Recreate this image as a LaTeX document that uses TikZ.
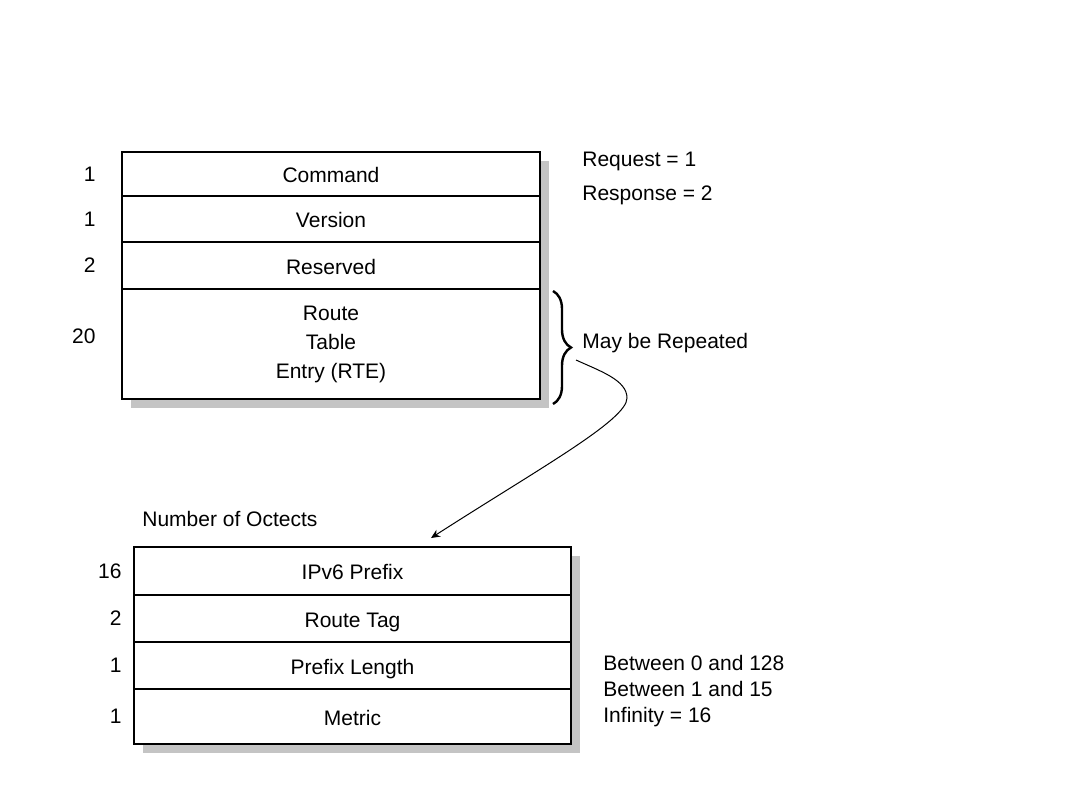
\documentclass[tikz,border=0pt]{standalone}
\usepackage{fontspec}
\setmainfont{Liberation Sans}
\usepackage{tikz}
\usetikzlibrary{arrows.meta,positioning,decorations.pathreplacing}
\definecolor{shadowgray}{HTML}{C4C4C4}
\pgfdeclarelayer{back}
\pgfsetlayers{back,main}
\tikzset{
    field/.style={rectangle, draw=black, line width=1pt, fill=white,
        inner sep=0pt, outer sep=0pt, align=center,
        font=\fontsize{10.5}{14.5}\selectfont},
    oneline/.style={text height=9.2pt, text depth=0.6pt},
    topfield/.style={field, minimum width=209pt},
    lowfield/.style={field, minimum width=218.5pt},
    octet/.style={inner sep=0pt, font=\fontsize{10.5}{12}\selectfont},
    note/.style={inner sep=0pt, align=left, font=\fontsize{10.5}{13}\selectfont},
    link/.style={-{Stealth[length=4.5pt,width=4pt]}, line width=0.5pt},
    repbrace/.style={decorate, decoration={brace, amplitude=9pt}, line width=1.2pt}
}

\begin{document}
\begin{tikzpicture}[x=0.5pt,y=-0.5pt]
        \useasboundingbox (0,0) rectangle (1080,810);
        % RIPng message
        \node[topfield, oneline, minimum height=22pt, anchor=north west] (cmd) at (122,152) {Command};
        \node[topfield, oneline, minimum height=23pt, below=0pt of cmd] (ver) {Version};
        \node[topfield, oneline, minimum height=23.5pt, below=0pt of ver] (res) {Reserved};
        \node[topfield, minimum height=55pt, below=0pt of res] (rte) {Route\\Table\\Entry (RTE)};
        \node[octet, left=13pt of cmd] (ncmd) {1};
        \node[octet, left=13pt of ver] (nver) {1};
        \node[octet, left=13pt of res] (nres) {2};
        \node[octet, left=13pt of rte, yshift=4pt] (nrte) {20};
        \node[note, right=21pt of cmd, yshift=-2pt, font=\fontsize{10.5}{17}\selectfont] (cmdvals) {Request = 1\\Response = 2};
        \draw[repbrace] ([xshift=6.5pt,yshift=-1pt]rte.north east) -- ([xshift=6.5pt,yshift=-2.5pt]rte.south east);
        \node[note, right=21pt of rte, yshift=0.5pt] (repeat) {May be Repeated};
        % route table entry
        \node[lowfield, oneline, minimum height=24pt, anchor=north west] (ip6) at (134,547) {IPv6 Prefix};
        \node[lowfield, oneline, minimum height=23.5pt, below=0pt of ip6] (tag) {Route Tag};
        \node[lowfield, oneline, minimum height=23.5pt, below=0pt of tag] (plen) {Prefix Length};
        \node[lowfield, oneline, minimum height=27.5pt, below=0pt of plen] (metric) {Metric};
        \node[octet, left=6pt of ip6] (nip6) {16};
        \node[octet, left=6pt of tag] (ntag) {2};
        \node[octet, left=6pt of plen] (nplen) {1};
        \node[octet, left=6pt of metric] (nmetric) {1};
        \node[note, anchor=base west] (octets) at ([shift={(4pt,10.5pt)}]ip6.north west) {Number of Octects};
        \node[note, right=16pt of plen.south east, yshift=-1pt] (ranges) {Between 0 and 128\\Between 1 and 15\\Infinity = 16};
        % shadows
        \begin{pgfonlayer}{back}
            \fill[shadowgray] ([shift={(9,9)}]cmd.north west) rectangle ([shift={(9,9)}]rte.south east);
            \fill[shadowgray] ([shift={(9,9)}]ip6.north west) rectangle ([shift={(9,9)}]metric.south east);
        \end{pgfonlayer}
        % expansion arrow
        \coordinate (from) at ([shift={(36,16)}]rte.east);
        \coordinate (bend) at ([shift={(51,38)}]from);
        \coordinate (into) at ([shift={(297,-9)}]ip6.north west);
        \draw[link] (from) .. controls ([shift={(24,11)}]from) and ([shift={(0,-18)}]bend) .. (bend)
            .. controls ([shift={(0,22)}]bend) and ([shift={(109,-70)}]into) .. (into);
    \end{tikzpicture}
\end{document}
